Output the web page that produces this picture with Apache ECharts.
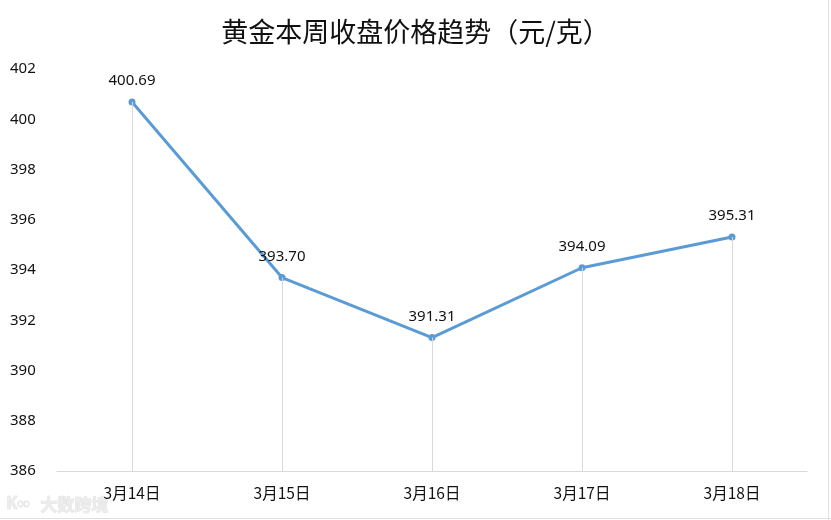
<!DOCTYPE html>
<html><head><meta charset="utf-8">
<script src="https://cdn.jsdelivr.net/npm/echarts@6/dist/echarts.min.js"></script>
<style>html,body{margin:0;padding:0;background:#fff}#c{width:831px;height:520px}</style>
</head><body><div id="c"></div>
<script>
const titleText = '黄金本周收盘价格趋势（元/克）';
const categories = ['3月14日','3月15日','3月16日','3月17日','3月18日'];
const prices = [400.69, 393.70, 391.31, 394.09, 395.31];
const yMin = 386, yMax = 402, yStep = 2;

const chart = echarts.init(document.getElementById('c'));
const dropLines = prices.map((v, i) => [
  {coord: [i, yMin]}, {coord: [i, v]}
]);
chart.setOption({
  backgroundColor: '#fff',
  animation: false,
  title: {
    text: titleText, left: 'center', top: 13,
    textStyle: {fontFamily: 'Noto Sans CJK SC', fontSize: 27, fontWeight: 'normal', color: '#111'}
  },
  grid: {left: 57, right: 24, top: 69, bottom: 49},
  xAxis: {
    type: 'category', data: categories, boundaryGap: true,
    axisLine: {lineStyle: {color: '#d9d9d9', width: 1}},
    axisTick: {show: false},
    axisLabel: {fontFamily: 'Noto Sans CJK SC', fontSize: 15.5, color: '#111', margin: 14},
    splitLine: {show: false}
  },
  yAxis: {
    type: 'value', min: yMin, max: yMax, interval: yStep,
    axisLine: {show: false}, axisTick: {show: false},
    splitLine: {show: false},
    axisLabel: {fontFamily: 'Noto Sans', fontSize: 15, color: '#111', align: 'left', margin: 47}
  },
  series: [{
    type: 'line', data: prices,
    lineStyle: {color: '#5b9bd5', width: 3},
    itemStyle: {color: '#5b9bd5'},
    symbol: 'circle', symbolSize: 7,
    label: {show: true, position: 'top', distance: 10, fontFamily: 'Noto Sans', fontSize: 15, color: '#111',
      formatter: p => p.value.toFixed(2)},
    markLine: {
      silent: true, symbol: ['none','none'], label: {show: false},
      lineStyle: {color: '#d9d9d9', width: 1, type: 'solid'},
      data: dropLines
    },
    z: 3
  }],
  graphic: [
    {type: 'text', left: 40, top: 496, style: {text: '大数跨境', font: 'bold 17px "Noto Sans CJK SC"', fill: '#ececec', stroke: '#dadada', lineWidth: 0.6}},
    {type: 'text', left: 6, top: 495, style: {text: 'K∞', font: 'bold 17px "Noto Sans"', fill: '#ececec', stroke: '#dadada', lineWidth: 0.6}},
    {type: 'line', shape: {x1: 0, y1: 518.5, x2: 831, y2: 518.5}, style: {stroke: '#e0e0e0', lineWidth: 1}},
    {type: 'line', shape: {x1: 828.5, y1: 0, x2: 828.5, y2: 520}, style: {stroke: '#e0e0e0', lineWidth: 1}}
  ]
});
</script></body></html>
